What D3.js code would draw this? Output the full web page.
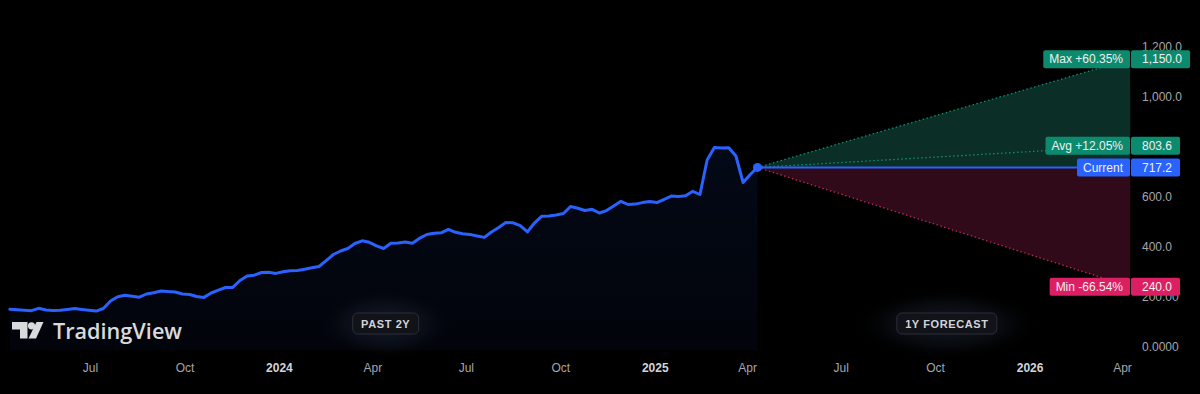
<!DOCTYPE html>
<html>
<head>
<meta charset="utf-8">
<script src="https://cdn.jsdelivr.net/npm/d3@7"></script>
<style>
  html, body { margin: 0; padding: 0; background: #000; }
  svg { display: block; font-family: "Liberation Sans", Arial, sans-serif; }
</style>
</head>
<body>
<div id="chart"></div>
<script>
// weekly closes, first bar on priceStart
const priceStart = "2023-04-14";
const prices = [
  149.6, 147.6, 146.0, 144.0, 153.6, 146.8, 145.2, 145.6, 148.8, 152.4,
  148.8, 145.6, 142.4, 152.8, 182.8, 200.0, 205.6, 201.6, 198.0, 210.8,
  216.0, 222.8, 220.4, 218.8, 210.8, 208.8, 200.8, 197.2, 214.8, 226.0,
  236.8, 237.2, 264.8, 282.8, 286.0, 296.8, 297.6, 293.2, 300.0, 303.6,
  305.2, 309.6, 315.6, 320.8, 344.4, 368.8, 382.8, 392.8, 412.8, 423.6,
  417.6, 403.6, 392.8, 413.6, 415.2, 419.2, 414.0, 434.0, 448.8, 454.0,
  455.6, 469.6, 457.6, 452.0, 449.2, 442.8, 437.2, 458.8, 476.8, 497.2,
  495.6, 484.4, 459.2, 495.6, 522.0, 523.2, 526.8, 532.8, 560.8, 554.0,
  544.8, 549.6, 534.8, 544.4, 562.8, 581.6, 568.8, 570.4, 576.4, 580.8,
  576.4, 588.8, 602.4, 601.2, 603.6, 621.6, 608.8, 746.8, 796.4, 794.4,
  796.0, 762.8, 656.8, 688.8, 717.2
];

// 1 year forecast
const forecastEnd = "2026-04-09";
const forecastNames = ["Max", "Avg", "Min"];
const forecastValues = [1150.0, 803.6, 240.0];

// axes
const yTicks = [0, 200, 400, 600, 800, 1000, 1200];
const yTickLabels = ["0.0000", "200.00", "400.0", "600.0", "800.0", "1,000.0", "1,200.0"];
const xTicks = ["2023-07-01", "2023-10-01", "2024-01-01", "2024-04-01", "2024-07-01", "2024-10-01",
                "2025-01-01", "2025-04-01", "2025-07-01", "2025-10-01", "2026-01-01", "2026-04-01"];

const parse = d3.timeParse("%Y-%m-%d");
const w = 1200;
const h = 394;
const plotRight = 1130;

const start = parse(priceStart);
const data = prices.map((v, i) => ({ date: d3.timeDay.offset(start, 7 * i), value: v }));
const last = data[data.length - 1];
const endDate = parse(forecastEnd);

const x = d3.scaleTime()
  .domain([parse("2023-07-01"), parse("2026-04-01")])
  .range([90, 1122]);

const y = d3.scaleLinear().domain([0, 1200]).range([346.7, 46.7]);

const svg = d3.select("#chart").append("svg")
  .attr("width", w)
  .attr("height", h);

svg.append("rect").attr("width", w).attr("height", h).attr("fill", "#000");

const defs = svg.append("defs");

const areaGrad = defs.append("linearGradient")
  .attr("id", "areaGrad").attr("x1", 0).attr("y1", 0).attr("x2", 0).attr("y2", 1);
areaGrad.append("stop").attr("offset", "0%").attr("stop-color", "#2962ff").attr("stop-opacity", 0.09);
areaGrad.append("stop").attr("offset", "100%").attr("stop-color", "#2962ff").attr("stop-opacity", 0.04);

const glow = defs.append("radialGradient").attr("id", "glow");
glow.append("stop").attr("offset", "0%").attr("stop-color", "#2a3248").attr("stop-opacity", 0.55);
glow.append("stop").attr("offset", "60%").attr("stop-color", "#1a2030").attr("stop-opacity", 0.3);
glow.append("stop").attr("offset", "100%").attr("stop-color", "#000").attr("stop-opacity", 0);

// past area
const area = d3.area()
  .x((d) => x(d.date))
  .y0(350)
  .y1((d) => y(d.value));

svg.append("path")
  .datum(data)
  .attr("d", area)
  .attr("fill", "url(#areaGrad)");

// forecast fills
const xc = x(last.date);
const yc = y(last.value);
const xe = x(endDate);

svg.append("path")
  .attr("d", `M${xc},${yc}L${xe},${y(forecastValues[0])}L${xe},${yc}Z`)
  .attr("fill", "#0b2f27");

svg.append("path")
  .attr("d", `M${xc},${yc}L${xe},${yc}L${xe},${y(forecastValues[2])}Z`)
  .attr("fill", "#300a19");

const lineColors = ["#0d8f72", "#0d8f72", "#c2245a"];
forecastValues.forEach((v, i) => {
  svg.append("line")
    .attr("x1", xc).attr("y1", yc)
    .attr("x2", xe).attr("y2", y(v))
    .attr("stroke", lineColors[i])
    .attr("stroke-width", 1.3)
    .attr("stroke-dasharray", "1.5 2.5");
});

// current level
svg.append("line")
  .attr("x1", xc).attr("y1", yc)
  .attr("x2", xe).attr("y2", yc)
  .attr("stroke", "#2962ff")
  .attr("stroke-width", 2);

// price line
const line = d3.line()
  .x((d) => x(d.date))
  .y((d) => y(d.value));

svg.append("path")
  .datum(data)
  .attr("d", line)
  .attr("fill", "none")
  .attr("stroke", "#2962ff")
  .attr("stroke-width", 3)
  .attr("stroke-linejoin", "round")
  .attr("stroke-linecap", "round");

svg.append("circle")
  .attr("cx", xc).attr("cy", yc).attr("r", 4.5)
  .attr("fill", "#2962ff");

// y axis
const yAxis = d3.axisRight(y)
  .tickValues(yTicks)
  .tickSize(0)
  .tickPadding(12)
  .tickFormat((d, i) => yTickLabels[i]);

const gy = svg.append("g")
  .attr("transform", `translate(${plotRight},0)`)
  .call(yAxis);
gy.select(".domain").remove();
gy.selectAll("text")
  .attr("fill", "#a3a6af")
  .style("font-size", "12px")
  .style("font-family", "Liberation Sans, Arial, sans-serif");

// price labels on the scale
const fmtVal = d3.format(",.1f");
const fmtPct = d3.formatLocale({ decimal: ".", thousands: ",", grouping: [3], currency: ["$", ""], minus: "-" })
  .format("+.2%");

function priceLabel(name, value, color) {
  const cy = y(value);
  const g = svg.append("g");
  const nameBox = g.append("rect");
  const valBox = g.append("rect");
  const t1 = g.append("text")
    .attr("x", plotRight - 7)
    .attr("y", cy)
    .attr("dy", "0.35em")
    .attr("text-anchor", "end")
    .attr("fill", "#f0f0f0")
    .style("font-size", "12px")
    .text(name);
  const t2 = g.append("text")
    .attr("x", 1142)
    .attr("y", cy)
    .attr("dy", "0.35em")
    .attr("fill", "#f0f0f0")
    .style("font-size", "12px")
    .text(fmtVal(value));
  const w1 = t1.node().getComputedTextLength();
  const w2 = t2.node().getComputedTextLength();
  nameBox
    .attr("x", plotRight - 7 - w1 - 6)
    .attr("y", cy - 9)
    .attr("width", w1 + 13)
    .attr("height", 18)
    .attr("rx", 2)
    .attr("fill", color);
  valBox
    .attr("x", plotRight + 1)
    .attr("y", cy - 9)
    .attr("width", 1142 - plotRight - 1 + w2 + 8)
    .attr("height", 18)
    .attr("rx", 2)
    .attr("fill", color);
}

const boxColors = ["#0c8a6e", "#0c8a6e", "#dc1f63"];
forecastValues.forEach((v, i) => {
  priceLabel(forecastNames[i] + " " + fmtPct(v / last.value - 1), v, boxColors[i]);
});
priceLabel("Current", last.value, "#2962ff");

// x axis
const xAxis = d3.axisBottom(x)
  .tickValues(xTicks.map(parse))
  .tickSize(0)
  .tickPadding(8)
  .tickFormat((d) => (d.getMonth() === 0 ? d3.timeFormat("%Y")(d) : d3.timeFormat("%b")(d)));

const gx = svg.append("g")
  .attr("transform", "translate(0,355)")
  .call(xAxis);
gx.select(".domain").remove();
gx.selectAll("text")
  .style("font-size", "12px")
  .style("font-family", "Liberation Sans, Arial, sans-serif")
  .attr("fill", (d) => (d.getMonth() === 0 ? "#d1d4dc" : "#a3a6af"))
  .attr("font-weight", (d) => (d.getMonth() === 0 ? "bold" : "normal"));

// period badges
function badge(cx, label, bw) {
  svg.append("ellipse")
    .attr("cx", cx).attr("cy", 324)
    .attr("rx", bw * 0.75 + 20).attr("ry", 36)
    .attr("fill", "url(#glow)");
  svg.append("rect")
    .attr("x", cx - bw / 2).attr("y", 313)
    .attr("width", bw).attr("height", 21)
    .attr("rx", 5)
    .attr("fill", "#111318")
    .attr("stroke", "#2a2e39");
  svg.append("text")
    .attr("x", cx).attr("y", 324)
    .attr("dy", "0.35em")
    .attr("text-anchor", "middle")
    .attr("fill", "#d1d4dc")
    .attr("font-weight", "bold")
    .style("font-size", "11px")
    .style("letter-spacing", "0.6px")
    .text(label);
}
badge((x(data[0].date) + xc) / 2 + 2, "PAST 2Y", 66);
badge((xc + xe) / 2 + 3, "1Y FORECAST", 100);

// TradingView logo
const logo = svg.append("g").attr("fill", "#d9dadc");
logo.append("path").attr("d", "M12,322H27.5V338.5H20V329.5H12Z");
logo.append("circle").attr("cx", 31.5).attr("cy", 325.8).attr("r", 3.6);
logo.append("path").attr("d", "M36.5,322H43.5L36,338.5H28.5Z");
logo.append("text")
  .attr("x", 53).attr("y", 338.5)
  .attr("textLength", 129)
  .attr("lengthAdjust", "spacingAndGlyphs")
  .attr("font-weight", 600)
  .style("font-size", "21px")
  .style("font-family", "Open Sans, Liberation Sans, sans-serif")
  .text("TradingView");
</script>
</body>
</html>
